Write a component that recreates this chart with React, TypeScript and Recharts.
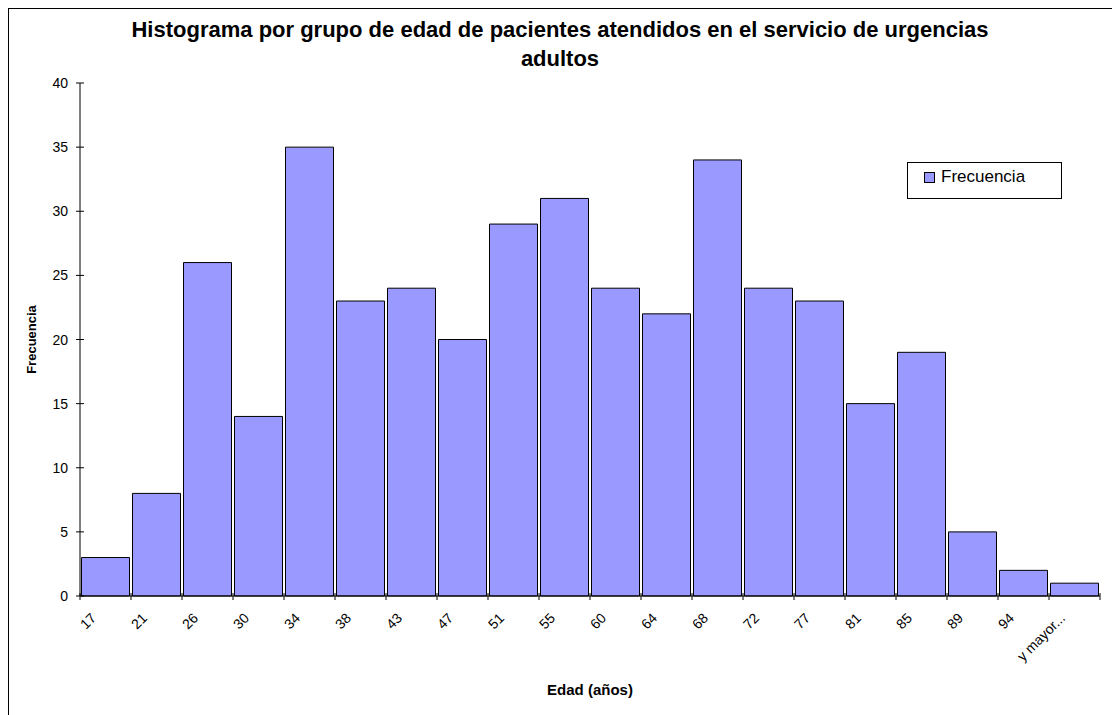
import React from 'react';
import { BarChart, Bar, XAxis, YAxis, Legend, Label } from 'recharts';

const ageBins = ['17', '21', '26', '30', '34', '38', '43', '47', '51', '55', '60', '64', '68', '72', '77', '81', '85', '89', '94', 'y mayor...'];
const frequencies = [3, 8, 26, 14, 35, 23, 24, 20, 29, 31, 24, 22, 34, 24, 23, 15, 19, 5, 2, 1];
const yTicks = [0, 5, 10, 15, 20, 25, 30, 35, 40];

const data = ageBins.map((bin, i) => ({ bin, Frecuencia: frequencies[i] }));

const FONT = '"Liberation Sans", Arial, sans-serif';
const BAR_FILL = '#9999FF';

const CHART_W = 1111;
const CHART_H = 706;
const MARGIN = { top: 74, right: 20, left: 0, bottom: 0 };
const BAND = (CHART_W - 71 - MARGIN.right) / ageBins.length;

const XTick = ({ x, y, payload, index }: any) => {
  const edge = x - BAND / 2;
  const isLast = index === ageBins.length - 1;
  const ax = edge + 17;
  const ay = y + 23;
  return (
    <g>
      <line x1={edge} y1={y - 3} x2={edge} y2={y + 4} stroke="#000" />
      {isLast && <line x1={x + BAND / 2} y1={y - 3} x2={x + BAND / 2} y2={y + 4} stroke="#000" />}
      <text
        x={ax}
        y={ay}
        textAnchor="end"
        transform={`rotate(-45, ${ax}, ${ay})`}
        fontSize={14}
        fontFamily={FONT}
        fill="#000"
      >
        {payload.value}
      </text>
    </g>
  );
};

const YTick = ({ x, y, payload }: any) => (
  <g>
    <line x1={x - 4} y1={y} x2={x + 4} y2={y} stroke="#000" />
    <text x={x - 12} y={y + 5} textAnchor="end" fontSize={14} fontFamily={FONT} fill="#000">
      {payload.value}
    </text>
  </g>
);

const LegendBox = () => (
  <div
    style={{
      width: 155,
      height: 37,
      border: '1px solid #000',
      boxSizing: 'border-box',
      background: '#fff',
      fontFamily: FONT,
      fontSize: 17,
      display: 'flex',
      alignItems: 'flex-start',
      paddingTop: 4,
      paddingLeft: 16,
    }}
  >
    <span style={{ width: 9, height: 9, background: BAR_FILL, border: '1px solid #000', marginTop: 5, marginRight: 6, flexShrink: 0 }} />
    <span>Frecuencia</span>
  </div>
);

const App: React.FC = () => {
  return (
    <div
      style={{
        position: 'relative',
        width: 1112,
        height: 707,
        borderLeft: '1px solid #000',
        borderTop: '1px solid #000',
        boxSizing: 'border-box',
        background: '#fff',
        fontFamily: FONT,
      }}
    >
      <div
        style={{
          position: 'absolute',
          left: 0,
          top: 6,
          width: 1102,
          textAlign: 'center',
          fontWeight: 'bold',
          fontSize: 22,
          lineHeight: '29px',
          color: '#000',
        }}
      >
        Histograma por grupo de edad de pacientes atendidos en el servicio de urgencias
        <br />
        adultos
      </div>
      <BarChart width={CHART_W} height={CHART_H} data={data} margin={MARGIN} barCategoryGap={1.5}>
        <XAxis
          dataKey="bin"
          interval={0}
          height={119}
          tickSize={0}
          tickMargin={0}
          tickLine={false}
          axisLine={{ stroke: '#000' }}
          tick={<XTick />}
        >
          <Label
            content={({ viewBox }: any) => (
              <text
                x={viewBox.x + viewBox.width / 2}
                y={viewBox.y + 99}
                textAnchor="middle"
                fontSize={15}
                fontWeight="bold"
                fontFamily={FONT}
                fill="#000"
              >
                Edad (años)
              </text>
            )}
          />
        </XAxis>
        <XAxis xAxisId="top" dataKey="bin" orientation="top" height={0} tick={false} tickLine={false} axisLine={{ stroke: '#888' }} />
        <YAxis
          domain={[0, 40]}
          ticks={yTicks}
          width={71}
          tickSize={0}
          tickMargin={0}
          tickLine={false}
          axisLine={{ stroke: '#000' }}
          tick={<YTick />}
        >
          <Label
            content={({ viewBox }: any) => {
              const cx = 27;
              const cy = viewBox.y + viewBox.height / 2;
              return (
                <text
                  x={cx}
                  y={cy}
                  textAnchor="middle"
                  transform={`rotate(-90, ${cx}, ${cy})`}
                  fontSize={13}
                  fontWeight="bold"
                  fontFamily={FONT}
                  fill="#000"
                >
                  Frecuencia
                </text>
              );
            }}
          />
        </YAxis>
        <YAxis yAxisId="right" orientation="right" width={0} domain={[0, 40]} tick={false} tickLine={false} axisLine={{ stroke: '#888' }} />
        <Legend
          layout="vertical"
          align="center"
          verticalAlign="middle"
          content={<LegendBox />}
          wrapperStyle={{ position: 'absolute', left: 898, top: 153, width: 155, height: 37 }}
        />
        <Bar dataKey="Frecuencia" fill={BAR_FILL} stroke="#000" strokeWidth={1} isAnimationActive={false} />
      </BarChart>
    </div>
  );
};

export default App;
